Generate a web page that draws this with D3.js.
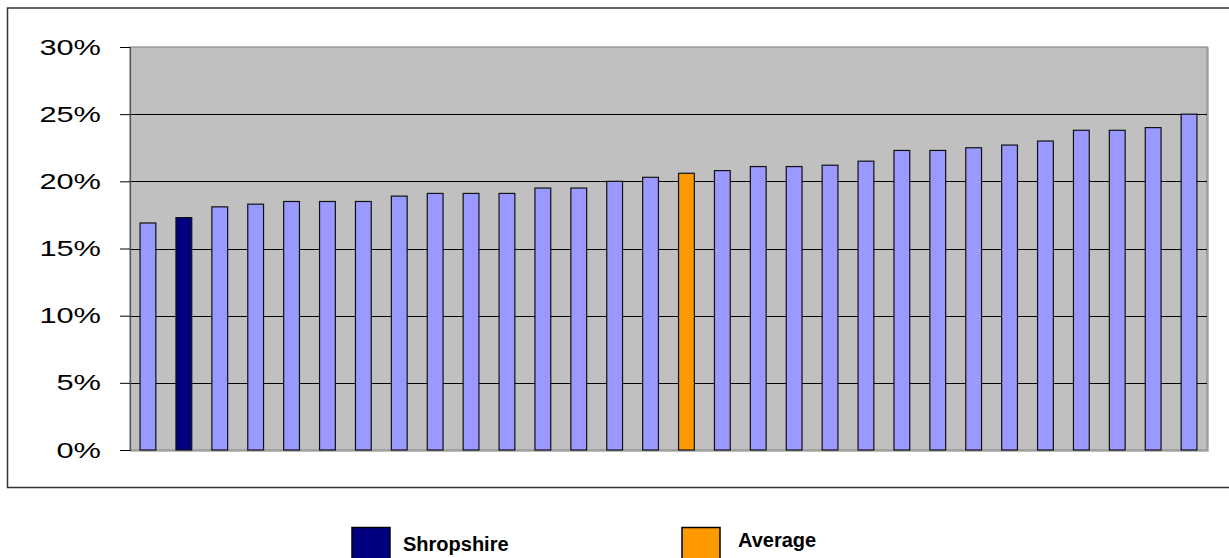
<!DOCTYPE html>
<html>
<head>
<meta charset="utf-8">
<script src="https://cdn.jsdelivr.net/npm/d3@7"></script>
<style>
  html, body { margin: 0; padding: 0; background: #fff; }
  svg { display: block; }
</style>
</head>
<body>
<svg id="chart" width="1229" height="558"></svg>
<script>
// Authorities ranked by share, lowest to highest
const categories = d3.range(1, 31).map(i => "Area " + i);
const values = [16.9, 17.3, 18.1, 18.3, 18.5, 18.5, 18.5, 18.9, 19.1, 19.1,
                 19.1, 19.5, 19.5, 20.0, 20.3, 20.6, 20.8, 21.1, 21.1, 21.2,
                 21.5, 22.3, 22.3, 22.5, 22.7, 23.0, 23.8, 23.8, 24.0, 25.0];
const seriesKind = values.map(() => "other");
seriesKind[1] = "Shropshire";
seriesKind[15] = "Average";
const yTicks = [0, 5, 10, 15, 20, 25, 30];
const legendItems = ["Shropshire", "Average"];

const colours = { other: "#9999FF", Shropshire: "#000080", Average: "#FF9900" };

const svg = d3.select("#chart");
const plot = { left: 130, right: 1207, top: 47, bottom: 450 };

// Outer chart frame
svg.append("path")
  .attr("d", `M1229,8 H7.5 V487.5 H1229`)
  .attr("fill", "none")
  .attr("stroke", "#333")
  .attr("stroke-width", 1.5);

const x = d3.scaleBand()
  .domain(categories)
  .range([plot.left, plot.right])
  .paddingInner(0.56)
  .paddingOuter(0.28);

const y = d3.scaleLinear().domain([0, 30]).range([plot.bottom, plot.top]);

// Plot background with a soft edge on the right and bottom
svg.append("rect")
  .attr("x", plot.left + 1).attr("y", plot.top + 1)
  .attr("width", plot.right - plot.left).attr("height", plot.bottom - plot.top)
  .attr("fill", "none")
  .attr("stroke", "#a8a8a8").attr("stroke-width", 1.5);
svg.append("rect")
  .attr("x", plot.left).attr("y", plot.top)
  .attr("width", plot.right - plot.left).attr("height", plot.bottom - plot.top)
  .attr("fill", "#C0C0C0")
  .attr("stroke", "#8c8c8c").attr("stroke-width", 1.2);

// Gridlines
svg.append("g")
  .selectAll("line")
  .data(yTicks.filter(t => t > 0 && t < 30))
  .join("line")
  .attr("x1", plot.left).attr("x2", plot.right)
  .attr("y1", d => Math.round(y(d)) + 0.5).attr("y2", d => Math.round(y(d)) + 0.5)
  .attr("stroke", "#000").attr("stroke-width", 1);

// Bars
svg.append("g")
  .selectAll("rect")
  .data(values)
  .join("rect")
  .attr("x", (d, i) => x(categories[i]))
  .attr("y", d => y(d))
  .attr("width", x.bandwidth())
  .attr("height", d => y(0) - y(d))
  .attr("fill", (d, i) => colours[seriesKind[i]])
  .attr("stroke", "#111")
  .attr("stroke-width", 1.2);

// Y axis
const yAxis = d3.axisLeft(y)
  .tickValues(yTicks)
  .tickSize(10)
  .tickPadding(18)
  .tickFormat(d => d + "%");

const gy = svg.append("g")
  .attr("transform", `translate(${plot.left},0)`)
  .call(yAxis);
gy.select(".domain").attr("stroke", "#555").attr("stroke-width", 1.2);
gy.selectAll(".tick line").attr("stroke", "#000");
// Labels are set in a widened face: scale horizontally about their right edge
gy.selectAll(".tick text")
  .attr("font-family", "Liberation Sans, Arial, sans-serif")
  .attr("font-size", 22)
  .attr("fill", "#000")
  .attr("x", 0)
  .attr("dy", "0.32em")
  .attr("transform", "translate(-29,0) scale(1.4,1)");

// Legend
const legendX = [352, 682];
const legendTextX = [403, 738];
const legend = svg.append("g");
legendItems.forEach((name, i) => {
  legend.append("rect")
    .attr("x", legendX[i]).attr("y", 527.5)
    .attr("width", 38).attr("height", 40)
    .attr("fill", colours[name])
    .attr("stroke", "#000").attr("stroke-width", 1.5);
  legend.append("text")
    .attr("x", legendTextX[i])
    .attr("y", i === 0 ? 551 : 547)
    .attr("font-family", "Liberation Sans, Arial, sans-serif")
    .attr("font-size", 20)
    .attr("font-weight", "bold")
    .attr("fill", "#000")
    .text(name);
});
</script>
</body>
</html>
